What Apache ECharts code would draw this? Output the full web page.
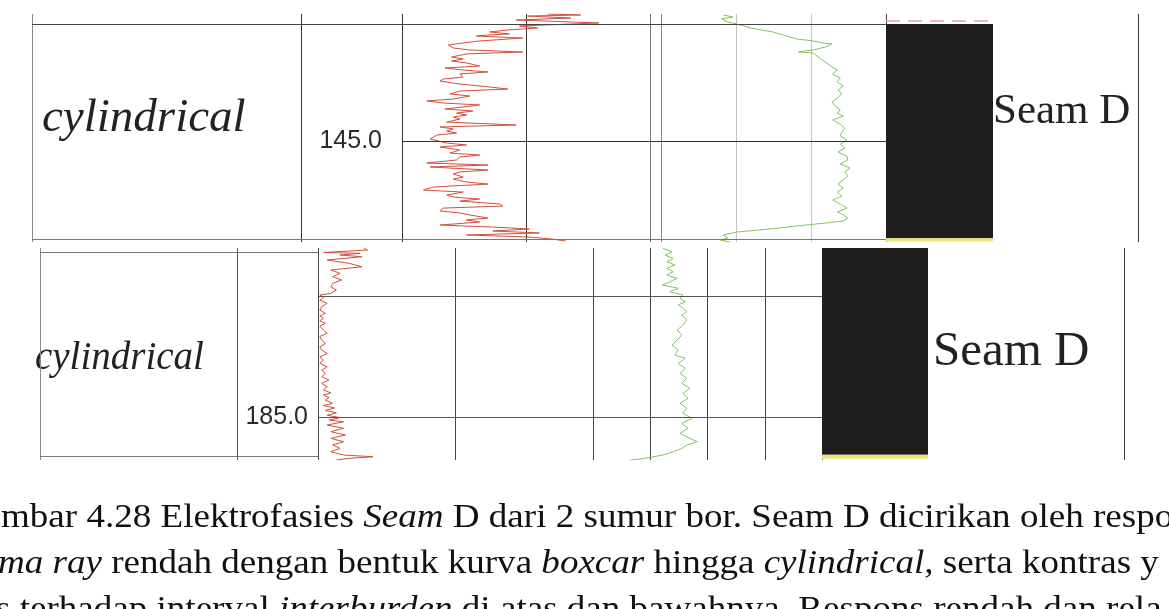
<!DOCTYPE html>
<html>
<head>
<meta charset="utf-8">
<script src="https://cdn.jsdelivr.net/npm/echarts@6/dist/echarts.min.js"></script>
<style>
html,body{margin:0;padding:0;background:#ffffff;}
#chart{width:1169px;height:609px;}
</style>
</head>
<body>
<div id="chart"></div>
<script>
// ================= DATA =================
// Well A (upper panel) - Gamma Ray (GAPI) vs depth (m)
const wellA_grDepth = [143.915,143.923,143.932,143.949,143.966,143.991,144.017,144.034,144.051,144.068,
144.085,144.094,144.103,144.120,144.145,144.162,144.179,144.205,144.222,144.239,
144.256,144.282,144.299,144.316,144.333,144.359,144.376,144.393,144.410,144.427,
144.453,144.470,144.487,144.513,144.538,144.556,144.573,144.598,144.615,144.641,
144.658,144.675,144.692,144.709,144.726,144.744,144.761,144.778,144.795,144.812,
144.838,144.863,144.880,144.897,144.915,144.932,144.949,144.966,144.983,145.000,
145.017,145.034,145.051,145.077,145.103,145.120,145.137,145.162,145.188,145.205,
145.222,145.248,145.265,145.282,145.308,145.325,145.350,145.368,145.393,145.419,
145.436,145.462,145.479,145.496,145.513,145.538,145.556,145.573,145.598,145.615,
145.632,145.658,145.675,145.692,145.718,145.735,145.752,145.769,145.786,145.803,
145.821,145.838,145.855];
const wellA_gr = [88,108,76,102,69,119,71,82,64,53,
65,52,45,73,47,37,28,31,41,73,
39,30,37,30,39,47,26,37,52,35,
37,25,23,35,53,64,35,29,41,31,
15,25,47,37,26,43,33,39,31,35,
27,69,23,31,27,33,21,19,17,18,
27,39,23,35,29,47,35,33,15,52,
17,52,35,31,37,31,39,52,19,13,
37,27,31,47,35,59,61,25,23,35,
41,52,39,47,23,55,77,55,83,39,
77,91,99];

// Well A - second log (green)
const wellA_dnDepth = [143.923,143.940,143.957,143.983,144.000,144.034,144.068,144.103,144.128,144.145,
144.162,144.171,144.197,144.222,144.239,144.248,144.274,144.308,144.333,144.368,
144.393,144.427,144.462,144.496,144.530,144.564,144.598,144.632,144.667,144.701,
144.735,144.761,144.786,144.821,144.855,144.889,144.923,144.957,144.991,145.026,
145.060,145.094,145.128,145.162,145.197,145.231,145.265,145.299,145.333,145.368,
145.402,145.436,145.470,145.504,145.538,145.573,145.607,145.632,145.658,145.684,
145.701,145.726,145.752,145.778,145.803,145.829,145.846,145.863];
const wellA_dn = [0.83,0.96,0.81,0.89,1.01,1.19,1.49,1.68,1.81,2.03,
2.15,2.28,2.19,2.03,1.83,2.03,2.08,2.15,2.21,2.28,
2.35,2.29,2.39,2.35,2.43,2.36,2.41,2.35,2.28,2.32,
2.39,2.35,2.43,2.29,2.39,2.45,2.41,2.39,2.48,2.39,
2.45,2.36,2.48,2.49,2.39,2.52,2.45,2.49,2.43,2.36,
2.43,2.35,2.41,2.29,2.39,2.48,2.35,2.43,2.49,2.43,
2.19,1.81,1.45,1.01,0.83,0.89,0.79,0.92];

// Well A lithology column
const wellA_lithTop  = [144.000, 145.830];
const wellA_lithBase = [145.830, 145.858];
const wellA_lithType = ['coal', 'sand'];
const wellA_contact  = [143.966];
const wellA_depthTicks = [145.0];
const wellA_gridDepths = [145.0];
const wellA_borderDepths = [144.0, 145.838];

// Well B (lower panel) - Gamma Ray
const wellB_grDepth = [183.606,183.620,183.640,183.647,183.661,183.675,183.702,183.730,183.758,183.785,
183.812,183.840,183.868,183.895,183.923,183.950,183.978,183.992,184.010,184.035,
184.060,184.088,184.116,184.143,184.165,184.184,184.205,184.226,184.250,184.281,
184.308,184.335,184.364,184.391,184.420,184.446,184.475,184.502,184.530,184.556,
184.585,184.612,184.640,184.667,184.695,184.721,184.750,184.777,184.800,184.818,
184.840,184.860,184.887,184.905,184.925,184.945,184.965,184.985,185.005,185.025,
185.039,185.066,185.093,185.121,185.149,185.176,185.204,185.231,185.259,185.287,
185.314,185.328,185.341,185.355];
const wellB_gr = [25,27,3,23,12,24,5,17,24,7,
12,8,13,8,7,10,7,1,3,1,
5,2,1,4,1,3,1,4,1,3,
5,1,2,4,1,2,5,1,3,1,
5,2,4,2,6,2,5,3,7,3,
6,4,8,3,9,4,10,5,12,6,
14,5,14,7,15,7,14,8,12,7,
14,30,17,10];

// Well B - second log (green)
const wellB_dnDepth = [183.606,183.634,183.661,183.689,183.717,183.744,183.771,183.799,183.826,183.854,
183.882,183.909,183.936,183.964,183.992,184.019,184.047,184.074,184.102,184.130,
184.157,184.198,184.240,184.281,184.322,184.364,184.405,184.446,184.488,184.515,
184.556,184.598,184.639,184.680,184.721,184.763,184.804,184.845,184.887,184.928,
184.969,185.011,185.052,185.093,185.135,185.176,185.204,185.231,185.259,185.287,
185.314,185.333,185.347,185.355];
const wellB_dn = [1.22,1.38,1.26,1.40,1.29,1.43,1.29,1.40,1.29,1.47,
1.34,1.21,1.49,1.34,1.57,1.52,1.61,1.49,1.57,1.64,
1.55,1.64,1.57,1.47,1.55,1.47,1.38,1.49,1.43,1.61,
1.49,1.61,1.52,1.64,1.55,1.69,1.57,1.66,1.52,1.64,
1.57,1.73,1.55,1.66,1.52,1.69,1.82,1.64,1.55,1.40,
1.22,1.00,0.82,0.65];

// Well B lithology column
const wellB_lithTop  = [183.603, 185.312];
const wellB_lithBase = [185.312, 185.345];
const wellB_lithType = ['coal', 'sand'];
const wellB_depthTicks = [185.0];
const wellB_gridDepths = [184.0, 185.0];
const wellB_borderDepths = [183.636, 185.322];

// Texts
const faciesLabel = 'cylindrical';
const seamLabel = 'Seam D';
const captionLines = [
  'mbar 4.28 Elektrofasies {i|Seam} D dari 2 sumur bor. Seam D dicirikan oleh respo',
  '{i|ma ray} rendah dengan bentuk kurva {i|boxcar} hingga {i|cylindrical}, serta kontras y',
  's terhadap interval {i|interburden} di atas dan bawahnya. Respons rendah dan rela'
];

// ================= BUILD =================
const lithColor = { coal: '#1f1d1d', sand: '#f2e27a' };
const zip = (xs, ds) => xs.map((v, i) => [v, ds[i]]);

const panelA = { top: 14, height: 228, dMin: 143.9145, dMax: 145.863 };
const panelB = { top: 248, height: 212, dMin: 183.603, dMax: 185.355 };

const grids = [], xAxes = [], yAxes = [], series = [];

function addTrack(panel, left, width, xCfg, yCfg) {
  const idx = grids.length;
  grids.push({ left: left, width: width, top: panel.top, height: panel.height, containLabel: false });
  xAxes.push(Object.assign({
    type: 'value', gridIndex: idx, min: 0, max: 1, interval: 1,
    axisLine: { show: false }, axisTick: { show: false }, axisLabel: { show: false },
    splitLine: { show: false }
  }, xCfg || {}));
  yAxes.push(Object.assign({
    type: 'value', gridIndex: idx, inverse: true, min: panel.dMin, max: panel.dMax,
    axisLine: { show: false }, axisTick: { show: false }, axisLabel: { show: false },
    splitLine: { show: false }
  }, yCfg || {}));
  return idx;
}
function vlines(colors, opts) {
  return Object.assign({ show: true, lineStyle: { color: colors, width: 1 } }, opts || {});
}
function hLines(idx, depths, color, width, type) {
  series.push({
    type: 'line', xAxisIndex: idx, yAxisIndex: idx, data: [], silent: true,
    markLine: {
      silent: true, symbol: ['none', 'none'], animation: false,
      label: { show: false },
      lineStyle: { color: color, width: width || 1, type: type || 'solid' },
      emphasis: { disabled: true },
      data: depths.map(d => ({ yAxis: d }))
    }
  });
}
function lithSeries(idx, tops, bases, types) {
  series.push({
    type: 'custom', xAxisIndex: idx, yAxisIndex: idx, silent: true,
    encode: { x: [0, 1], y: [2, 3] },
    data: tops.map((t, i) => ({ value: [0, 1, t, bases[i]], itemStyle: { color: lithColor[types[i]] } })),
    renderItem: function (params, api) {
      const p1 = api.coord([api.value(0), api.value(2)]);
      const p2 = api.coord([api.value(1), api.value(3)]);
      return { type: 'rect', shape: { x: p1[0], y: p1[1], width: p2[0] - p1[0], height: p2[1] - p1[1] },
               style: { fill: api.visual('color') } };
    }
  });
}
function depthLabelAxis(ticks, margin) {
  return {
    axisLabel: {
      show: true, customValues: ticks, margin: margin, inside: false,
      formatter: v => Number(v).toFixed(1),
      fontFamily: '"Liberation Sans", Arial, sans-serif', fontSize: 25, color: '#2a2a2a'
    }
  };
}
function logLine(idx, data, color) {
  series.push({
    type: 'line', xAxisIndex: idx, yAxisIndex: idx, data: data, showSymbol: false,
    symbol: 'none', silent: true, clip: true,
    lineStyle: { color: color, width: 1 }
  });
}

// ---- Panel A ----
const aText  = addTrack(panelA, 32, 269, { splitLine: vlines(['#8a8a8a', '#333']) });
const aDepth = addTrack(panelA, 301, 101, { splitLine: vlines(['#333', '#333']) });
const aGR    = addTrack(panelA, 402, 248, { min: 0, max: 150, interval: 75, splitLine: vlines(['#333', '#333', '#777']) },
                        depthLabelAxis(wellA_depthTicks, 20));
const aDN    = addTrack(panelA, 661, 225, { min: 0, max: 3, interval: 1, splitLine: vlines(['#8a8a8a', '#c4c4c4', '#c4c4c4', '#444']) });
const aLith  = addTrack(panelA, 886, 107);
const aLab   = addTrack(panelA, 993, 145, { splitLine: vlines(['#333', '#333'], { showMinLine: false }) });
const aFrameO = addTrack(panelA, 32, 854);
const aFrameI = addTrack(panelA, 402, 484);

hLines(aFrameO, [wellA_borderDepths[0]], '#444', 1);
hLines(aFrameO, [wellA_borderDepths[1]], '#777', 1);
hLines(aFrameI, wellA_gridDepths, '#333', 1);
lithSeries(aLith, wellA_lithTop, wellA_lithBase, wellA_lithType);
hLines(aLith, wellA_contact, '#e7a3a0', 1.5, [14, 8]);
logLine(aGR, zip(wellA_gr, wellA_grDepth), '#d2503c');
logLine(aDN, zip(wellA_dn, wellA_dnDepth), '#86c263');

// ---- Panel B ----
const bText  = addTrack(panelB, 40, 197, { splitLine: vlines(['#8a8a8a', '#555']) });
const bDepth = addTrack(panelB, 237, 81, { splitLine: vlines(['#555', '#444']) });
const bGR    = addTrack(panelB, 318, 275, { min: 0, max: 150, interval: 75, splitLine: vlines(['#444', '#444', '#444']) },
                        depthLabelAxis(wellB_depthTicks, 10));
const bDN    = addTrack(panelB, 593, 229, { min: 0, max: 4, interval: 1, splitLine: vlines(['#444', '#444', '#444', '#444', '#777']) });
const bLith  = addTrack(panelB, 822, 106);
const bLab   = addTrack(panelB, 928, 196, { splitLine: vlines(['#444', '#444'], { showMinLine: false }) });
const bFrameO = addTrack(panelB, 40, 278);
const bFrameI = addTrack(panelB, 318, 504);

hLines(bFrameO, wellB_borderDepths, '#777', 1);
hLines(bFrameI, wellB_gridDepths, '#555', 1);
lithSeries(bLith, wellB_lithTop, wellB_lithBase, wellB_lithType);
logLine(bGR, zip(wellB_gr, wellB_grDepth), '#d2503c');
logLine(bDN, zip(wellB_dn, wellB_dnDepth), '#86c263');

// ---- Text elements ----
const serif = '"Liberation Serif", "Times New Roman", serif';
const graphics = [
  { type: 'text', x: 42, y: 119, style: { text: faciesLabel, fontFamily: serif, fontStyle: 'italic', fontSize: 47, fill: '#222', verticalAlign: 'middle' } },
  { type: 'text', x: 993, y: 112, style: { text: seamLabel, fontFamily: serif, fontSize: 43, fill: '#222', verticalAlign: 'middle' } },
  { type: 'text', x: 35, y: 359, style: { text: faciesLabel, fontFamily: serif, fontStyle: 'italic', fontSize: 39, fill: '#222', verticalAlign: 'middle' } },
  { type: 'text', x: 933, y: 352, style: { text: seamLabel, fontFamily: serif, fontSize: 49, fill: '#222', verticalAlign: 'middle' } }
];
const capX = [1, -2, -4];
const capY = [518, 564, 610];
captionLines.forEach((t, i) => {
  graphics.push({
    type: 'text', x: capX[i], y: capY[i], scaleX: 1.123,
    style: {
      text: t, fontFamily: serif, fontSize: 33, fill: '#111', verticalAlign: 'middle', lineHeight: 33,
      rich: { i: { fontFamily: serif, fontSize: 33, fontStyle: 'italic', fill: '#111', lineHeight: 33 } }
    }
  });
});

const chart = echarts.init(document.getElementById('chart'), null, { renderer: 'canvas' });
chart.setOption({
  animation: false,
  backgroundColor: '#ffffff',
  grid: grids,
  xAxis: xAxes,
  yAxis: yAxes,
  series: series,
  graphic: graphics
});
</script>
</body>
</html>
